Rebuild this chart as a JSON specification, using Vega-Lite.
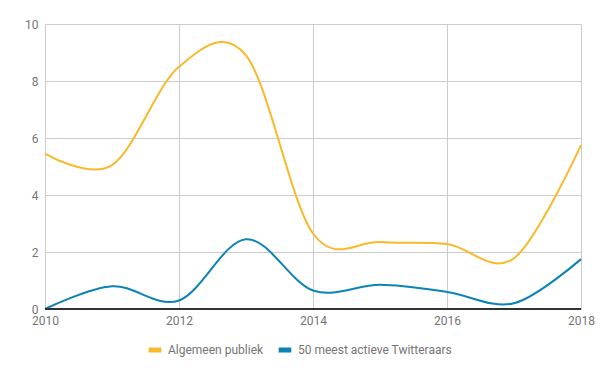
{
  "$schema": "https://vega.github.io/schema/vega-lite/v6.json",
  "width": 536,
  "height": 285,
  "autosize": "none",
  "padding": {"left": 45, "top": 24, "right": 19, "bottom": 62},
  "background": "white",
  "data": {
    "values": [
      {"jaar": 2010, "serie": "Algemeen publiek", "waarde": 5.45},
      {"jaar": 2011, "serie": "Algemeen publiek", "waarde": 5.05},
      {"jaar": 2012, "serie": "Algemeen publiek", "waarde": 8.5},
      {"jaar": 2013, "serie": "Algemeen publiek", "waarde": 8.9},
      {"jaar": 2014, "serie": "Algemeen publiek", "waarde": 2.65},
      {"jaar": 2015, "serie": "Algemeen publiek", "waarde": 2.35},
      {"jaar": 2016, "serie": "Algemeen publiek", "waarde": 2.28},
      {"jaar": 2017, "serie": "Algemeen publiek", "waarde": 1.78},
      {"jaar": 2018, "serie": "Algemeen publiek", "waarde": 5.75},
      {"jaar": 2010, "serie": "50 meest actieve Twitteraars", "waarde": 0.0},
      {"jaar": 2011, "serie": "50 meest actieve Twitteraars", "waarde": 0.8},
      {"jaar": 2012, "serie": "50 meest actieve Twitteraars", "waarde": 0.3},
      {"jaar": 2013, "serie": "50 meest actieve Twitteraars", "waarde": 2.45},
      {"jaar": 2014, "serie": "50 meest actieve Twitteraars", "waarde": 0.65},
      {"jaar": 2015, "serie": "50 meest actieve Twitteraars", "waarde": 0.85},
      {"jaar": 2016, "serie": "50 meest actieve Twitteraars", "waarde": 0.6},
      {"jaar": 2017, "serie": "50 meest actieve Twitteraars", "waarde": 0.2},
      {"jaar": 2018, "serie": "50 meest actieve Twitteraars", "waarde": 1.75}
    ]
  },
  "layer": [
    {
      "mark": {"type": "line", "interpolate": "cardinal", "strokeWidth": 2, "clip": false},
      "encoding": {
        "x": {
          "field": "jaar",
          "type": "quantitative",
          "scale": {"domain": [2010, 2018], "nice": false, "zero": false},
          "axis": {
            "title": null,
            "values": [2010, 2012, 2014, 2016, 2018],
            "format": "d",
            "ticks": false,
            "domain": false,
            "labelPadding": 6,
            "labelFont": "Roboto",
            "labelFontSize": 12,
            "labelColor": "#757575",
            "gridColor": "#cccccc",
            "labelFlush": false
          }
        },
        "y": {
          "field": "waarde",
          "type": "quantitative",
          "scale": {"domain": [0, 10], "nice": false},
          "axis": {
            "title": null,
            "values": [0, 2, 4, 6, 8, 10],
            "ticks": false,
            "domain": false,
            "labelPadding": 7,
            "labelFont": "Roboto",
            "labelFontSize": 12,
            "labelColor": "#757575",
            "gridColor": "#cccccc"
          }
        },
        "color": {
          "field": "serie",
          "type": "nominal",
          "scale": {
            "domain": ["Algemeen publiek", "50 meest actieve Twitteraars"],
            "range": ["#F8B92B", "#0B84B5"]
          },
          "legend": {
            "title": null,
            "orient": "none",
            "legendX": 101,
            "legendY": 317,
            "direction": "horizontal",
            "symbolType": "stroke",
            "symbolSize": 160,
            "symbolStrokeWidth": 5,
            "labelFont": "Roboto",
            "labelFontSize": 12,
            "labelColor": "#757575",
            "columnPadding": 4
          }
        }
      }
    },
    {
      "mark": {"type": "rule", "color": "#333333", "strokeWidth": 1.5},
      "encoding": {
        "y": {"datum": 0, "type": "quantitative"}
      }
    }
  ]
}
